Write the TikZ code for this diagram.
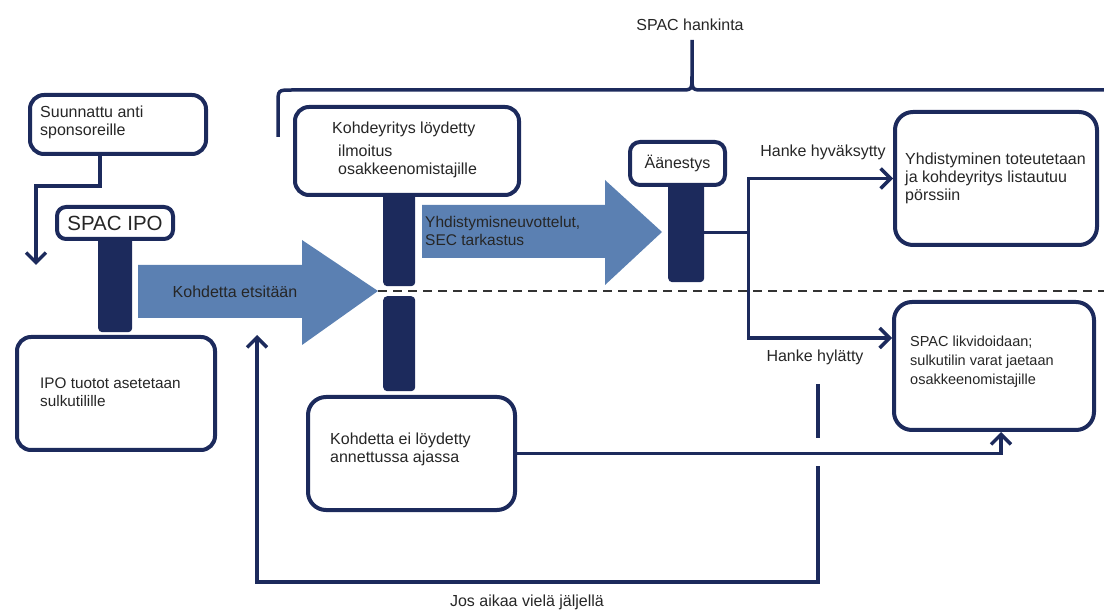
\documentclass[tikz,border=0pt]{standalone}
\usepackage{fontspec}
\setmainfont{Liberation Sans}
\usetikzlibrary{arrows.meta}
\definecolor{navy}{HTML}{1C2A5C}
\definecolor{steel}{HTML}{5B80B2}
\begin{document}
\begin{tikzpicture}[x=1pt,y=-1pt,
  box/.style={draw=navy, line width=4pt, rounded corners=14pt, anchor=north west, inner sep=0pt, fill=white},
  bar/.style={fill=navy, rounded corners=4pt, anchor=north west, inner sep=0pt},
  conn/.style={draw=navy, line width=3.5pt},
  arr/.style={conn, -{Straight Barb[length=10pt,width=20pt]}},
  txt/.style={font=\fontsize{16}{18}\selectfont, inner sep=0pt, align=left, text=black!85},
  bigarrow/.style={fill=steel},
]
\useasboundingbox (0,0) rectangle (1104,612);

% brace
\node[txt] (brlabel) at (690,25) {SPAC hankinta};
\draw[conn] (278,137) -- (278,104) .. controls (278,90) .. (292,90) -- (680,90) .. controls (692,90) .. (692,76) -- (692,40);
\draw[conn] (692,76) .. controls (692,90) .. (704,90) -- (1104,90);

% dashed separator
\draw[black!80, line width=2.2pt, dash pattern=on 9pt off 6pt] (378,291) -- (1104,291);

% big arrows
\fill[bigarrow] (138,265) -- (302,265) -- (302,240) -- (378,291) -- (302,345) -- (302,318) -- (138,318) -- cycle;
\node[txt] (a1) at (235,292) {Kohdetta etsitään};
\fill[bigarrow] (422,205) -- (605,205) -- (605,180) -- (662,232) -- (605,285) -- (605,258) -- (422,258) -- cycle;
\node[txt, font=\fontsize{15.5}{18}\selectfont, anchor=west] (a2) at (425,231) {Yhdistymisneuvottelut,\\SEC tarkastus};

% bars
\node[bar, minimum width=34pt, minimum height=95pt] (b1) at (98,237) {};
\node[bar, minimum width=32pt, minimum height=93pt] (b2u) at (383,193) {};
\node[bar, minimum width=32pt, minimum height=95pt] (b2l) at (383,296) {};
\node[bar, minimum width=36pt, minimum height=99pt] (b3) at (668,183) {};

% boxes
\node[box, minimum width=176pt, minimum height=59pt] (sp) at (28,93) {};
\node[txt, anchor=west] (spt) at (40,122) {Suunnattu anti\\sponsoreille};

\node[box, minimum width=116pt, minimum height=32pt, rounded corners=9pt] (ipo) at (55,205) {};
\node[txt, font=\fontsize{20.5}{22}\selectfont] (ipot) at (ipo.center) {SPAC IPO};

\node[box, minimum width=198pt, minimum height=113pt] (tuo) at (15,335) {};
\node[txt, font=\fontsize{15.3}{18}\selectfont, anchor=west] (tuot) at (40,392) {IPO tuotot asetetaan\\sulkutilille};

\node[box, minimum width=224pt, minimum height=88pt] (kl) at (293,105) {};
\node[txt, anchor=west] (klt) at (338,150) {\hspace*{-6pt}Kohdeyritys löydetty\\[5pt]ilmoitus\\osakkeenomistajille};

\node[box, minimum width=95pt, minimum height=43pt, rounded corners=10pt] (aan) at (628,140) {};
\node[txt] (aant) at (aan.center) {Äänestys};

\node[box, minimum width=202pt, minimum height=133pt, rounded corners=18pt] (yhd) at (893,110) {};
\node[txt, anchor=west] (yhdt) at (905,178) {Yhdistyminen toteutetaan\\ja kohdeyritys listautuu\\pörssiin};

\node[box, minimum width=200pt, minimum height=128pt, rounded corners=18pt] (lik) at (892,300) {};
\node[txt, font=\fontsize{14.5}{19}\selectfont, anchor=west] (likt) at (910,362) {SPAC likvidoidaan;\\sulkutilin varat jaetaan\\osakkeenomistajille};

\node[box, minimum width=207pt, minimum height=113pt, rounded corners=18pt] (ke) at (306,395) {};
\node[txt, anchor=west] (ket) at (330,449) {Kohdetta ei löydetty\\annettussa ajassa};

% labels
\node[txt] (hyv) at (823,152) {Hanke hyväksytty};
\node[txt] (hyl) at (815,357) {Hanke hylätty};
\node[txt] (jos) at (527,602) {Jos aikaa vielä jäljellä};

% connectors
\coordinate (ipoIn) at (36,265);
\draw[arr] ([xshift=-18pt]sp.south) |- (36,186) -- (ipoIn);

\coordinate (split) at ([xshift=44pt]b3.east);
\draw[arr] (b3.east) -- (split) |- (yhd.west);
\draw[arr] (split) |- ([yshift=28pt]lik.west);

\draw[arr] (ke.east) -| ([xshift=7pt]lik.south);

\coordinate (loopTop) at (818,384);
\coordinate (loopGapA) at (818,438);
\coordinate (loopGapB) at (818,466);
\coordinate (loopCorner) at (818,582);
\coordinate (loopEnd) at (257,335);
\draw[conn] (loopTop) -- (loopGapA);
\draw[arr] (loopGapB) -- (loopCorner) -| (loopEnd);
\end{tikzpicture}
\end{document}
